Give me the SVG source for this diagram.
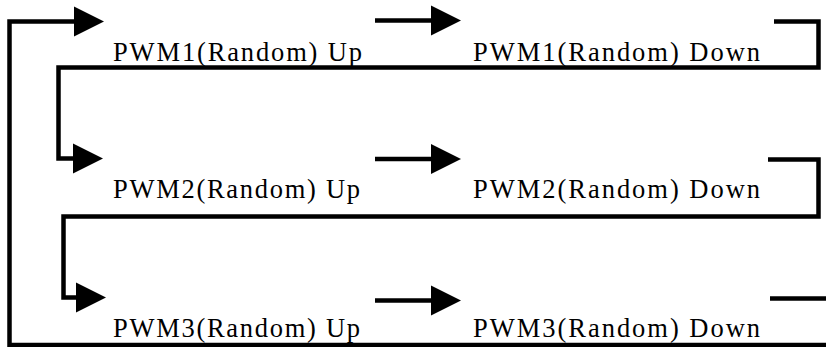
<svg xmlns="http://www.w3.org/2000/svg" width="826" height="347" viewBox="0 0 826 347">
<style>
.c{fill:none;stroke:#000;stroke-width:4.5;stroke-linejoin:miter;stroke-linecap:butt}
.h{fill:#000}
.t{font-family:"Liberation Serif","DejaVu Serif",serif;font-size:26.5px;fill:#000}
</style>
<defs>
<path id="ah" d="M0,-15 L30,0 L0,15 Z"/>
</defs>
<rect width="826" height="347" fill="#fff"/>
<g id="connectors">
<path class="c" d="M826,345 H9.5 V21.5 H76"/>
<use href="#ah" class="h" transform="translate(74,21.5)"/>
<path class="c" d="M375,20.5 H433"/>
<use href="#ah" class="h" transform="translate(431,20.5)"/>
<path class="c" d="M774,21.5 H818.5 V67.5 H58.5 V158.5 H75"/>
<use href="#ah" class="h" transform="translate(73,158.5)"/>
<path class="c" d="M375,159 H433"/>
<use href="#ah" class="h" transform="translate(431,159)"/>
<path class="c" d="M768,159.5 H818.5 V216.5 H63.5 V297.5 H78"/>
<use href="#ah" class="h" transform="translate(76,297.5)"/>
<path class="c" d="M375,300.5 H433"/>
<use href="#ah" class="h" transform="translate(431,300.5)"/>
<path class="c" d="M770,298.5 H826"/>
</g>
<g id="pwm1-up"><text class="t" x="113" y="61" textLength="249" lengthAdjust="spacing">PWM1(Random) Up</text></g>
<g id="pwm1-down"><text class="t" x="473" y="61" textLength="287" lengthAdjust="spacing">PWM1(Random) Down</text></g>
<g id="pwm2-up"><text class="t" x="113" y="198" textLength="247" lengthAdjust="spacing">PWM2(Random) Up</text></g>
<g id="pwm2-down"><text class="t" x="473" y="198" textLength="287" lengthAdjust="spacing">PWM2(Random) Down</text></g>
<g id="pwm3-up"><text class="t" x="113" y="337" textLength="247" lengthAdjust="spacing">PWM3(Random) Up</text></g>
<g id="pwm3-down"><text class="t" x="473" y="337" textLength="287" lengthAdjust="spacing">PWM3(Random) Down</text></g>
</svg>
